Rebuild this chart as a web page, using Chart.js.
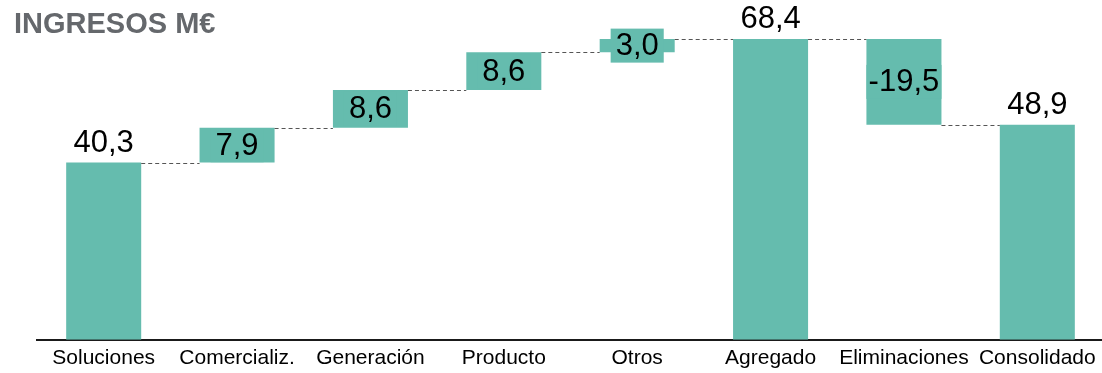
<!DOCTYPE html>
<html>
<head>
<meta charset="utf-8">
<title>Ingresos M€</title>
<script src="https://cdn.jsdelivr.net/npm/chart.js@4/dist/chart.umd.min.js"></script>
<style>
  html, body { margin: 0; padding: 0; background: #ffffff; overflow: hidden; }
  #wrap { position: relative; width: 1104px; height: 379px; }
</style>
</head>
<body>
<div id="wrap"><canvas id="chart"></canvas></div>
<script>
// Revenue bridge (M€): segment contributions, aggregate, eliminations, consolidated
const categories = ['Soluciones', 'Comercializ.', 'Generación', 'Producto', 'Otros', 'Agregado', 'Eliminaciones', 'Consolidado'];
const values = [40.3, 7.9, 8.6, 8.6, 3.0, 68.4, -19.5, 48.9];
const isTotal = [true, false, false, false, false, true, false, true];
const titleText = 'INGRESOS M€';

const TEAL = '#65BCAE';
const FONT = '"Liberation Sans", Arial, sans-serif';

// Build floating [start, end] ranges and the running level after each bar
const ranges = [];
const levels = [];
let running = 0;
values.forEach((v, i) => {
  if (isTotal[i]) {
    ranges.push([0, v]);
    running = v;
  } else {
    ranges.push([running, running + v]);
    running = running + v;
  }
  levels.push(running);
});

const fmt = v => v.toFixed(1).replace('.', ',');

const waterfallPlugin = {
  id: 'waterfallExtras',
  afterDatasetsDraw(chart) {
    const ctx = chart.ctx;
    const meta = chart.getDatasetMeta(0);
    const y = chart.scales.y;

    // dashed connectors between neighbouring bars
    ctx.save();
    ctx.setLineDash([4, 3]);
    ctx.strokeStyle = '#555555';
    ctx.lineWidth = 1;
    for (let i = 0; i < meta.data.length - 1; i++) {
      const a = meta.data[i], b = meta.data[i + 1];
      const py = Math.round(y.getPixelForValue(levels[i])) + 0.5;
      ctx.beginPath();
      ctx.moveTo(a.x + a.width / 2, py);
      ctx.lineTo(b.x - b.width / 2, py);
      ctx.stroke();
    }
    ctx.restore();

    // value labels: above totals, boxed inside the step bars
    ctx.save();
    ctx.font = '31px ' + FONT;
    ctx.textAlign = 'center';
    meta.data.forEach((el, i) => {
      const txt = fmt(values[i]);
      if (isTotal[i]) {
        const top = y.getPixelForValue(ranges[i][1]);
        ctx.fillStyle = '#000000';
        ctx.textBaseline = 'alphabetic';
        ctx.fillText(txt, el.x, top - 11);
      } else {
        const y0 = y.getPixelForValue(ranges[i][0]);
        const y1 = y.getPixelForValue(ranges[i][1]);
        const yc = (y0 + y1) / 2;
        const h = 34;
        let w = ctx.measureText(txt).width + 10;
        if (Math.abs(y0 - y1) >= h) w = Math.min(w, el.width);
        ctx.fillStyle = TEAL;
        ctx.fillRect(el.x - w / 2, yc - h / 2, w, h);
        ctx.fillStyle = '#000000';
        ctx.textBaseline = 'middle';
        ctx.fillText(txt, el.x, yc + 1);
      }
    });
    ctx.restore();

    // heading
    ctx.save();
    ctx.font = 'bold 29px ' + FONT;
    ctx.fillStyle = '#65686C';
    ctx.textAlign = 'left';
    ctx.textBaseline = 'alphabetic';
    ctx.fillText(titleText, 14, 33);
    ctx.restore();
  }
};

new Chart(document.getElementById('chart'), {
  type: 'bar',
  data: {
    labels: categories,
    datasets: [{
      data: ranges,
      backgroundColor: TEAL,
      borderWidth: 0,
      categoryPercentage: 1.0,
      barPercentage: 0.5625
    }]
  },
  options: {
    responsive: true,
    maintainAspectRatio: false,
    animation: false,
    layout: { padding: { left: 37, top: 10, right: 0, bottom: 2 } },
    plugins: {
      legend: { display: false },
      tooltip: { enabled: false },
      title: { display: false }
    },
    scales: {
      x: {
        grid: { display: false, drawTicks: false },
        border: { display: true, color: '#1a1a1a', width: 2 },
        ticks: {
          color: '#000000',
          font: { family: FONT, size: 21 },
          padding: 6,
          autoSkip: false,
          maxRotation: 0
        }
      },
      y: {
        display: false,
        min: 0,
        max: 75
      }
    }
  },
  plugins: [waterfallPlugin]
});
</script>
</body>
</html>
